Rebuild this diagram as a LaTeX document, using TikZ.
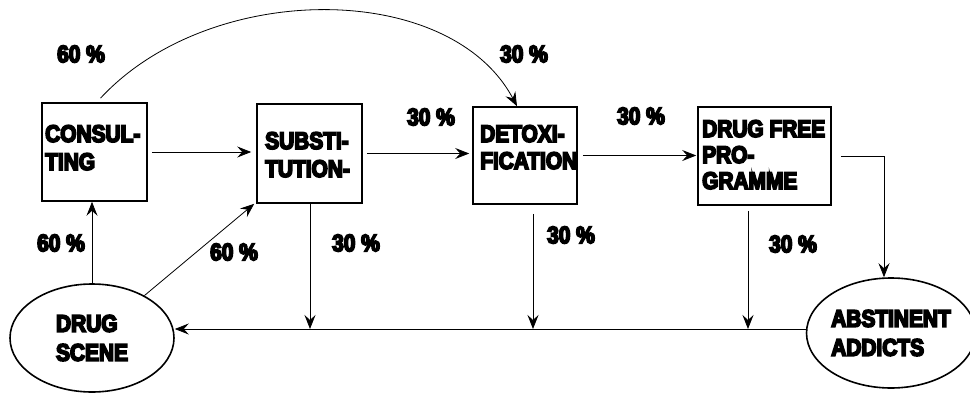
\documentclass[tikz,border=0pt]{standalone}
\usepackage{fontspec}
\newfontfamily\hv[FakeBold=7,FakeStretch=0.87]{Liberation Sans Bold}
\usetikzlibrary{shapes.geometric,arrows.meta}
\begin{document}
\begin{tikzpicture}[x=1pt,y=-1pt,
  box/.style={draw,line width=1.6pt,rectangle,inner sep=0pt},
  blob/.style={draw,line width=1.6pt,ellipse,inner sep=0pt,font=\hv\fontsize{24}{29}\selectfont,align=left},
  txt/.style={font=\hv\fontsize{24}{28}\selectfont,align=left,anchor=north west,inner sep=0pt},
  pct/.style={font=\hv\fontsize{24}{28}\selectfont,inner sep=0pt},
  arr/.style={line width=0.8pt,-{Stealth[length=14pt,width=11pt,inset=5pt]}},
  ln/.style={line width=0.8pt}]
\useasboundingbox (0,0) rectangle (970,394);
% boxes
\node[box,minimum width=105pt,minimum height=98pt] (cons) at (94.5,152) {};
\node[box,minimum width=105pt,minimum height=99pt] (subst) at (309.5,153.5) {};
\node[box,minimum width=104pt,minimum height=97pt] (detox) at (525,155.5) {};
\node[box,minimum width=133pt,minimum height=98pt] (free) at (764.5,156) {};
\node[txt] (tcons) at (45,125) {CONSUL-\\TING};
\node[txt] (tsubst) at (265,132) {SUBSTI-\\TUTION-};
\node[txt,font=\hv\fontsize{24}{27}\selectfont] (tdetox) at (480,125) {DETOXI-\\FICATION};
\node[txt,font=\hv\fontsize{24}{26}\selectfont] (tfree) at (702,120) {DRUG FREE\\PRO-\\GRAMME};
% ellipses
\node[blob,minimum width=164pt,minimum height=108pt] (scene) at (92,338) {DRUG\\SCENE};
\node[blob,minimum width=156pt,minimum height=110pt] (abst) at (891,333) {ABSTINENT\\ADDICTS};
% junctions
\coordinate (h) at (0,329);
\coordinate (j1) at (310,329);
\coordinate (j2) at (533,329);
\coordinate (j3) at (748,329);
% horizontal arrows
\draw[arr,shorten <=4pt,shorten >=5pt] (cons.east) -- (cons.east -| subst.west);
\draw[arr,shorten <=4pt,shorten >=3pt] (subst.east) -- (subst.east -| detox.west);
\draw[arr,shorten <=5pt,shorten >=1pt] (detox.east) -- (detox.east -| free.west);
\draw[arr,shorten <=9pt] (free.east) -| ([xshift=-7pt]abst.north);
% curve
\draw[arr] ([shift={(6,-4)}]cons.north) .. controls (210,-20) and (450,-20) .. ([xshift=-8pt]detox.north);
% from scene
\draw[arr] (scene.north) -- (scene.north |- cons.south);
\draw[arr] (scene.39) -- ([shift={(-2,0)}]subst.south west);
% down arrows
\draw[arr] (subst.south -| j1) -- (j1);
\draw[arr] ([shift={(8,9)}]detox.south) -- (j2);
\draw[arr] ([shift={(-16.5,5)}]free.south) -- (j3);
% return line
\draw[arr] (abst.west |- h) -- (scene.east |- h);
% labels
\node[pct] (l1) at (81,54) {60 \%};
\node[pct] (l2) at (524,54) {30 \%};
\node[pct] (l3) at (431,117) {30 \%};
\node[pct] (l4) at (641,116) {30 \%};
\node[pct] (l5) at (61,243) {60 \%};
\node[pct] (l6) at (234,252) {60 \%};
\node[pct] (l7) at (356,243) {30 \%};
\node[pct] (l8) at (571,235) {30 \%};
\node[pct] (l9) at (793,244) {30 \%};
\end{tikzpicture}
\end{document}
